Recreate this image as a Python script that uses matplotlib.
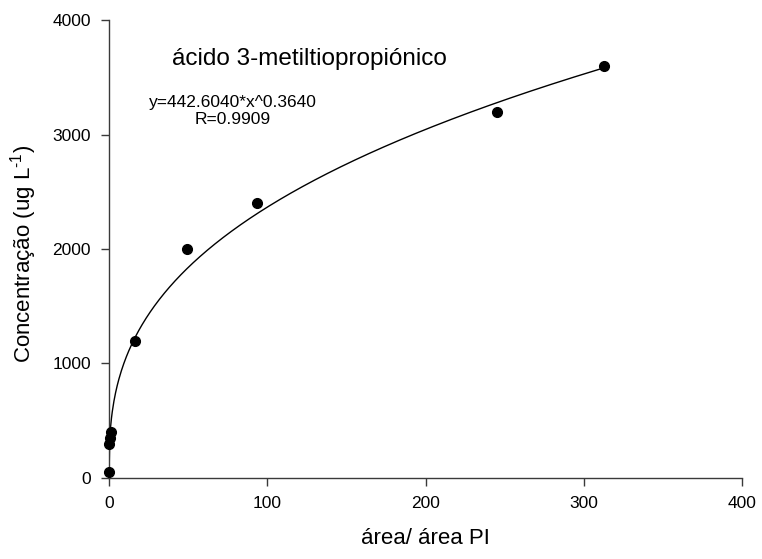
import matplotlib
matplotlib.use("Agg")
import matplotlib.pyplot as plt
import numpy as np

plt.rcParams['font.family'] = ['Liberation Sans', 'DejaVu Sans']
plt.rcParams['mathtext.fontset'] = 'custom'
plt.rcParams['mathtext.rm'] = 'Liberation Sans'

# calibration points (area ratio vs concentration)
area_ratio = [0.01, 0.2, 0.5, 1.5, 16.4, 49.5, 93.7, 245, 313]
concentration = [50, 300, 350, 400, 1200, 2000, 2400, 3200, 3600]

# power fit y = a * x^b
fit_a = 442.6040
fit_b = 0.3640
fit_r = 0.9909

x_ticks = [0, 100, 200, 300, 400]
y_ticks = [0, 1000, 2000, 3000, 4000]

fig = plt.figure(figsize=(7.62, 5.59), dpi=100)
ax = fig.add_axes([0.143, 0.145, 0.831, 0.819])

xfit = np.linspace(0, max(area_ratio), 600)
ax.plot(xfit, fit_a * xfit ** fit_b, color='black', linewidth=1.0)
ax.plot(area_ratio, concentration, 'o', color='black', markersize=7,
        clip_on=False, zorder=3)

ax.set_xlim(0, 400)
ax.set_ylim(0, 4000)
ax.set_xticks(x_ticks)
ax.set_yticks(y_ticks)

for side in ['top', 'right']:
    ax.spines[side].set_visible(False)
for side in ['left', 'bottom']:
    ax.spines[side].set_color('#3a3a3a')
    ax.spines[side].set_linewidth(1.0)

ax.tick_params(axis='both', direction='out', length=6, width=1.0,
               color='#3a3a3a', labelsize=12.5, pad=7)

ax.set_xlabel('área/ área PI', fontsize=16, labelpad=12)
ax.set_ylabel('Concentração (ug L$^{\u2010 1}$)', fontsize=16)
ax.yaxis.set_label_coords(-0.11, 0.49)

ax.text(0.1, 0.915, 'ácido 3-metiltiopropiónico', transform=ax.transAxes,
        fontsize=17.5, ha='left', va='center')
ax.text(0.196, 0.801,
        f'y={fit_a:.4f}*x^{fit_b:.4f}\nR={fit_r:.4f}',
        transform=ax.transAxes, fontsize=12.5, ha='center', va='center',
        multialignment='center', linespacing=1.15)

plt.savefig('out.png', dpi=100)
plt.close(fig)
